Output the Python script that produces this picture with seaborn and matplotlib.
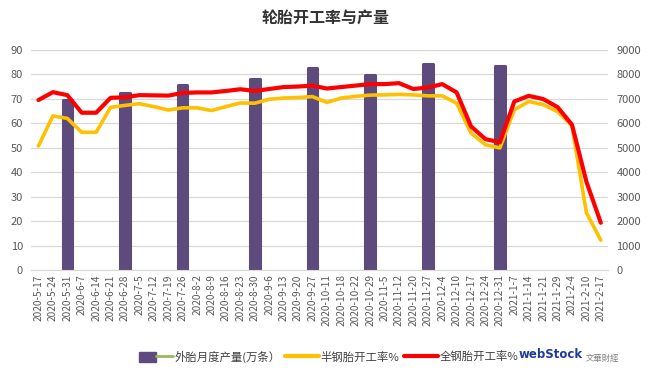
import numpy as np
import matplotlib
matplotlib.use('Agg')
import matplotlib.pyplot as plt
import seaborn as sns
from matplotlib.patches import Patch
from matplotlib.lines import Line2D
from matplotlib.legend_handler import HandlerTuple

# week labels on the x axis
dates = ['2020-5-17', '2020-5-24', '2020-5-31', '2020-6-7', '2020-6-14', '2020-6-21',
         '2020-6-28', '2020-7-5', '2020-7-12', '2020-7-19', '2020-7-26', '2020-8-2',
         '2020-8-9', '2020-8-16', '2020-8-23', '2020-8-30', '2020-9-6', '2020-9-13',
         '2020-9-20', '2020-9-27', '2020-10-11', '2020-10-18', '2020-10-22', '2020-10-29',
         '2020-11-5', '2020-11-12', '2020-11-20', '2020-11-27', '2020-12-4', '2020-12-10',
         '2020-12-17', '2020-12-24', '2020-12-31', '2021-1-7', '2021-1-14', '2021-1-21',
         '2021-1-29', '2021-2-4', '2021-2-10', '2021-2-17']

# semi-steel tyre operating rate (%)
semi_steel = [50.7, 63, 62, 56.3, 56.3, 66.5, 67.3, 68, 66.8, 65.4, 66.3, 66.3, 65.2, 66.8,
              68.3, 68.2, 69.8, 70.3, 70.5, 70.9, 68.5, 70.3, 71, 71.5, 71.6, 71.8, 71.6,
              71.2, 71.2, 68.2, 56, 51.2, 49.9, 65.5, 68.9, 67.6, 64.8, 59, 23.4, 12.2]

# all-steel tyre operating rate (%)
all_steel = [69.5, 72.7, 71.5, 64.3, 64.3, 70.4, 70.6, 71.5, 71.4, 71.3, 72.4, 72.6, 72.6,
             73.2, 73.9, 73.2, 74, 74.8, 75, 75.4, 74.2, 74.8, 75.4, 76, 76, 76.4, 74,
             74.6, 76, 72.6, 58.7, 53.5, 52.2, 68.9, 71.2, 69.9, 66.6, 59.4, 36.1, 19.3]

# monthly outer tyre output (10k units), only at month ends
bar_dates = ['2020-5-31', '2020-6-28', '2020-7-26', '2020-8-30', '2020-9-27',
             '2020-10-29', '2020-11-27', '2020-12-31']
output = [6950, 7220, 7570, 7810, 8260, 7960, 8430, 8360]

purple = '#5E4B7E'
yellow = '#FFC000'
red = '#FF0000'
grey_txt = '#595959'

sns.set_style('white')
plt.rcParams['font.family'] = ['Noto Sans CJK SC', 'DejaVu Sans']

fig = plt.figure(figsize=(6.51, 3.75), dpi=100)
ax = fig.add_axes([0.048, 0.28, 0.886, 0.587])
ax2 = ax.twinx()

# bars on the right axis
sns.barplot(x=bar_dates, y=output, order=dates, color=purple, width=0.66,
            saturation=1, ax=ax2)
for p in ax2.patches:
    p.set_edgecolor(purple)
    p.set_linewidth(2.2)
    p.set_joinstyle('round')

# lines on the left axis, drawn above the bars
idx = np.arange(len(dates))
sns.lineplot(x=idx, y=semi_steel, color=yellow, linewidth=2.6, ax=ax)
sns.lineplot(x=idx, y=all_steel, color=red, linewidth=3, ax=ax)
ax.set_zorder(ax2.get_zorder() + 1)
ax.patch.set_visible(False)

ax.set_ylim(0, 90)
ax2.set_ylim(0, 9000)
ax.set_xlim(-0.5, len(dates) - 0.5)
ax.set_yticks(np.arange(0, 91, 10))
ax2.set_yticks(np.arange(0, 9001, 1000))
ax2.yaxis.grid(True, color='#D9D9D9', linewidth=0.9)
ax2.set_axisbelow(True)
ax.grid(False)

ax.set_xticks(idx)
ax.set_xticklabels(dates, rotation=90)
ax.set_xticks(np.arange(-0.5, len(dates), 1), minor=True)
ax.tick_params(axis='x', which='major', length=0, labelsize=7.3, labelcolor=grey_txt, pad=3)
ax.tick_params(axis='x', which='minor', length=3.5, color='#D9D9D9', direction='out')
ax.tick_params(axis='y', length=0, labelsize=8, labelcolor=grey_txt, pad=6)
ax2.tick_params(axis='y', length=0, labelsize=8, labelcolor=grey_txt, pad=6)
ax.set_xlabel('')
ax.set_ylabel('')
ax2.set_xlabel('')
ax2.set_ylabel('')

for a in (ax, ax2):
    for s in a.spines.values():
        s.set_visible(False)
ax.spines['bottom'].set_visible(True)
ax.spines['bottom'].set_color('#D9D9D9')

fig.suptitle('轮胎开工率与产量', y=0.975, fontsize=11.5, color='#333333', fontweight='bold')

handles = [(Patch(facecolor=purple, edgecolor=purple), Line2D([], [], color='#9BBB59', lw=2)),
           Line2D([], [], color=yellow, lw=3),
           Line2D([], [], color=red, lw=3)]
labels = ['外胎月度产量(万条）', '半钢胎开工率%', '全钢胎开工率%']
fig.legend(handles, labels, handler_map={tuple: HandlerTuple(ndivide=None, pad=0)},
           loc='center', bbox_to_anchor=(0.505, 0.048), ncol=3, frameon=False,
           fontsize=8.2, handlelength=3.0, handleheight=1.0, handletextpad=0.1,
           columnspacing=0.4, labelcolor='#404040')

fig.text(0.797, 0.054, 'webStock', color='#1F3C99', fontsize=8.5, fontweight='bold',
         ha='left', va='center', family='DejaVu Sans')
fig.text(0.9, 0.045, '文華財經', color='#808080', fontsize=6, ha='left', va='center')

fig.savefig('out.png', dpi=100, facecolor='white')
